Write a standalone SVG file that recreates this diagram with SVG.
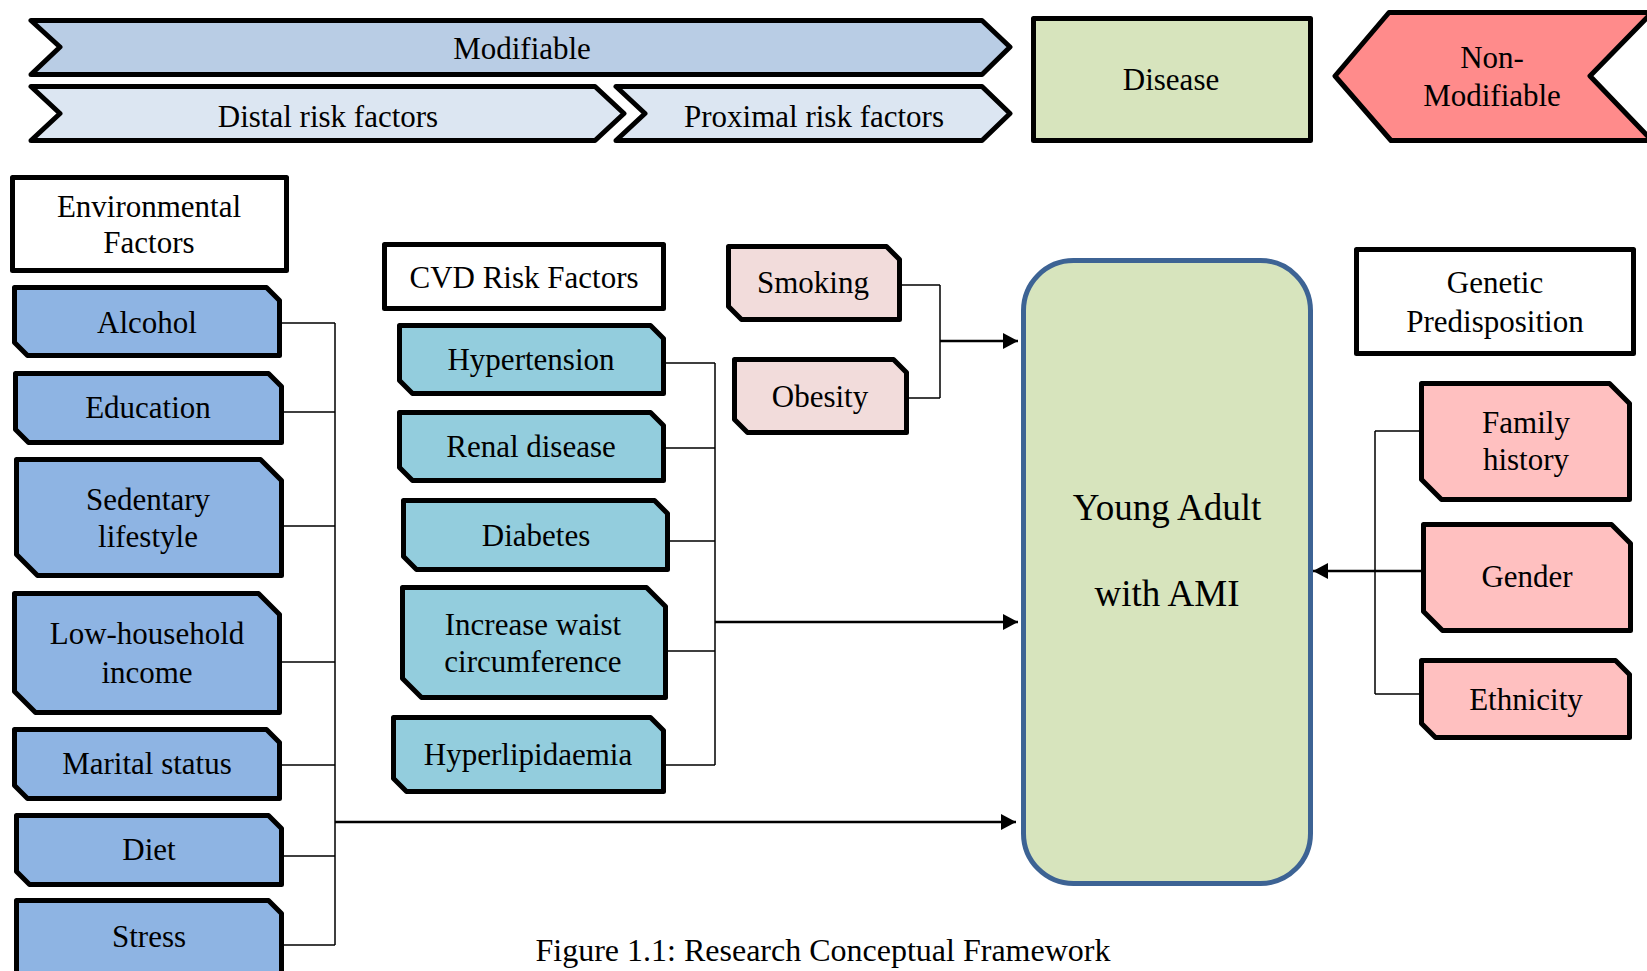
<svg xmlns="http://www.w3.org/2000/svg" width="1647" height="971" viewBox="0 0 1647 971">
<defs>
<style>
.t{font-family:"Liberation Serif","Times New Roman",serif;font-size:31px;fill:#000;text-anchor:middle}
.big{font-size:37px}
.cap{font-size:32px}
.box{stroke:#000;stroke-width:5;stroke-linejoin:round}
.env{fill:#8eb4e3}
.cvd{fill:#93cddd}
.lp{fill:#f2dcdb}
.gp{fill:#ffc0c0}
.wh{fill:#fff}
.thin{fill:none;stroke:#000;stroke-width:1.5}
.arr{fill:none;stroke:#000;stroke-width:2.5;marker-end:url(#ah)}
</style>
<marker id="ah" markerUnits="userSpaceOnUse" markerWidth="16" markerHeight="16" refX="15" refY="8" orient="auto">
<path d="M0,0 L15,8 L0,16 Z" fill="#000"/>
</marker>
</defs>
<rect width="1647" height="971" fill="#fff"/>

<g id="modifiable">
<path class="box" fill="#b9cde5" d="M31,20.5 H982 L1010,47 L982,74.5 H31 L60,47 Z"/>
<text class="t" x="522" y="59">Modifiable</text>
</g>
<g id="distal">
<path class="box" fill="#dce6f2" d="M31,86.5 H595 L624,113.5 L595,140.5 H31 L60,113.5 Z"/>
<text class="t" x="328" y="127">Distal risk factors</text>
</g>
<g id="proximal">
<path class="box" fill="#dce6f2" d="M616,86.5 H982 L1010,113.5 L982,140.5 H616 L645,113.5 Z"/>
<text class="t" x="814" y="127">Proximal risk factors</text>
</g>
<g id="disease">
<rect class="box" fill="#d7e4bd" x="1033.5" y="18.5" width="277" height="122"/>
<text class="t" x="1171" y="90">Disease</text>
</g>
<g id="nonmodifiable">
<path class="box" fill="#ff8b8b" d="M1389,12.5 H1652 L1590,76 L1652,140.5 H1391 L1335,76 Z"/>
<text class="t" x="1492" y="68">Non-</text>
<text class="t" x="1492" y="106">Modifiable</text>
</g>

<g id="env-factors">
<rect class="box wh" x="12.5" y="177.5" width="274" height="93"/>
<text class="t" x="149" y="217">Environmental</text>
<text class="t" x="149" y="253">Factors</text>
</g>
<g id="alcohol">
<path class="box env" d="M14.5,287.5 H266.5 L279.5,300.5 V355.5 H27.5 L14.5,342.5 Z"/>
<text class="t" x="147" y="333">Alcohol</text>
</g>
<g id="education">
<path class="box env" d="M15.5,373.5 H268.5 L281.5,386.5 V442.5 H28.5 L15.5,429.5 Z"/>
<text class="t" x="148" y="418">Education</text>
</g>
<g id="sedentary">
<path class="box env" d="M16.5,459.5 H260.5 L281.5,480.5 V575.5 H37.5 L16.5,554.5 Z"/>
<text class="t" x="148" y="510">Sedentary</text>
<text class="t" x="148" y="547">lifestyle</text>
</g>
<g id="low-income">
<path class="box env" d="M14.5,593.5 H258.5 L279.5,614.5 V712.5 H35.5 L14.5,691.5 Z"/>
<text class="t" x="147" y="644">Low-household</text>
<text class="t" x="147" y="683">income</text>
</g>
<g id="marital">
<path class="box env" d="M14.5,729.5 H266.5 L279.5,742.5 V798.5 H27.5 L14.5,785.5 Z"/>
<text class="t" x="147" y="774">Marital status</text>
</g>
<g id="diet">
<path class="box env" d="M16.5,815.5 H268.5 L281.5,828.5 V884.5 H29.5 L16.5,871.5 Z"/>
<text class="t" x="149" y="860">Diet</text>
</g>
<g id="stress">
<path class="box env" d="M16.5,900.5 H268.5 L281.5,913.5 V990 H29.5 L16.5,977 Z"/>
<text class="t" x="149" y="947">Stress</text>
</g>

<g id="cvd-factors">
<rect class="box wh" x="384.5" y="244.5" width="279" height="64"/>
<text class="t" x="524" y="288">CVD Risk Factors</text>
</g>
<g id="hypertension">
<path class="box cvd" d="M399.5,325.5 H650.5 L663.5,338.5 V393.5 H412.5 L399.5,380.5 Z"/>
<text class="t" x="531" y="370">Hypertension</text>
</g>
<g id="renal">
<path class="box cvd" d="M399.5,412.5 H650.5 L663.5,425.5 V480.5 H412.5 L399.5,467.5 Z"/>
<text class="t" x="531" y="457">Renal disease</text>
</g>
<g id="diabetes">
<path class="box cvd" d="M403.5,500.5 H654.5 L667.5,513.5 V569.5 H416.5 L403.5,556.5 Z"/>
<text class="t" x="536" y="546">Diabetes</text>
</g>
<g id="waist">
<path class="box cvd" d="M402.5,587.5 H646.5 L665.5,606.5 V697.5 H421.5 L402.5,678.5 Z"/>
<text class="t" x="533" y="635">Increase waist</text>
<text class="t" x="533" y="672">circumference</text>
</g>
<g id="hyperlipidaemia">
<path class="box cvd" d="M393.5,717.5 H650.5 L663.5,730.5 V791.5 H406.5 L393.5,778.5 Z"/>
<text class="t" x="528" y="765">Hyperlipidaemia</text>
</g>

<g id="smoking">
<path class="box lp" d="M728.5,246.5 H886.5 L899.5,259.5 V319.5 H741.5 L728.5,306.5 Z"/>
<text class="t" x="813" y="293">Smoking</text>
</g>
<g id="obesity">
<path class="box lp" d="M734.5,359.5 H893.5 L906.5,372.5 V432.5 H747.5 L734.5,419.5 Z"/>
<text class="t" x="820" y="407">Obesity</text>
</g>

<g id="young-adult">
<rect x="1023.5" y="260.5" width="287" height="623" rx="50" ry="50" fill="#d7e4bd" stroke="#3d6394" stroke-width="5"/>
<text class="t big" x="1167" y="520">Young Adult</text>
<text class="t big" x="1167" y="606">with AMI</text>
</g>

<g id="genetic">
<rect class="box wh" x="1356.5" y="249.5" width="277" height="104"/>
<text class="t" x="1495" y="293">Genetic</text>
<text class="t" x="1495" y="332">Predisposition</text>
</g>
<g id="family-history">
<path class="box gp" d="M1421.5,383.5 H1609.5 L1629.5,403.5 V499.5 H1441.5 L1421.5,479.5 Z"/>
<text class="t" x="1526" y="433">Family</text>
<text class="t" x="1526" y="470">history</text>
</g>
<g id="gender">
<path class="box gp" d="M1423.5,524.5 H1611.5 L1630.5,543.5 V630.5 H1442.5 L1423.5,611.5 Z"/>
<text class="t" x="1527" y="587">Gender</text>
</g>
<g id="ethnicity">
<path class="box gp" d="M1421.5,660.5 H1615.5 L1629.5,674.5 V737.5 H1435.5 L1421.5,723.5 Z"/>
<text class="t" x="1526" y="710">Ethnicity</text>
</g>

<g id="connectors">
<path class="thin" d="M282,323 H335 M284,412 H335 M284,526 H335 M282,662 H335 M282,765 H335 M284,856 H335 M284,945 H335 M335,323 V945"/>
<path class="arr" d="M335,822 H1016"/>
<path class="thin" d="M666,363 H715 M666,448 H715 M670,541 H715 M668,651 H715 M666,765 H715 M715,363 V765"/>
<path class="arr" d="M715,622 H1018"/>
<path class="thin" d="M902,285 H940 M909,398 H940 M940,285 V398"/>
<path class="arr" d="M940,341 H1018"/>
<path class="thin" d="M1419,431 H1375 M1419,694 H1375 M1375,431 V694"/>
<path class="arr" d="M1421,571 H1313"/>
</g>

<text class="t cap" x="823" y="961">Figure 1.1: Research Conceptual Framework</text>
</svg>
